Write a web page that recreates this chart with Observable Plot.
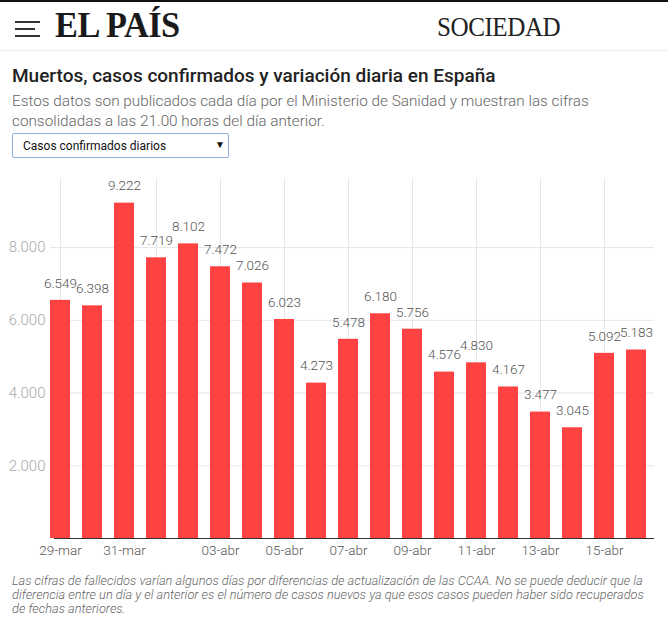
<!DOCTYPE html>
<html>
<head>
<meta charset="utf-8">
<script src="https://cdn.jsdelivr.net/npm/d3@7"></script>
<script src="https://cdn.jsdelivr.net/npm/@observablehq/plot@0.6"></script>
<style>
  html, body { margin: 0; padding: 0; background: #fff; width: 668px; overflow: hidden; }
  body { font-family: Roboto, "Noto Sans", sans-serif; }
  .topbar { height: 2px; background: #111; }
  .header { position: relative; height: 48px; border-bottom: 1px solid #eee; box-shadow: 0 1px 2px rgba(0,0,0,0.04); }
  .burger { position: absolute; left: 15px; top: 19px; width: 25px; }
  .burger div { height: 2px; background: #333; margin-bottom: 5px; }
  .burger div:nth-child(2) { width: 20px; }
  .logo { position: absolute; left: 55px; top: 4px; font-family: "Liberation Serif", "DejaVu Serif", serif; font-weight: bold; font-size: 35px; color: #1a1a1a; letter-spacing: -0.5px; transform: scaleX(0.98); transform-origin: left; }
  .section { position: absolute; left: 437px; top: 10px; font-family: "Liberation Serif", "DejaVu Serif", serif; font-size: 27px; color: #222; transform: scaleX(0.93); transform-origin: left; letter-spacing: -0.5px; }
  .title { position: absolute; left: 12px; top: 64px; font-size: 19px; font-weight: 500; color: #222; }
  .subtitle { position: absolute; left: 12px; top: 91px; width: 650px; font-size: 15.3px; font-weight: 300; color: #666; line-height: 20px; }
  .select { position: absolute; left: 12px; top: 133px; width: 215px; height: 23px; border: 1px solid #8db0dc; border-radius: 2px; font-size: 12px; color: #111; box-sizing: content-box; }
  .select span { position: absolute; left: 10px; top: 5px; }
  .select i { position: absolute; left: 202px; top: 5px; font-style: normal; font-size: 10px; }
  #chart { position: absolute; left: 0; top: 165px; }
  .caption { position: absolute; left: 12px; top: 574px; width: 660px; font-size: 12.8px; font-style: italic; font-weight: 300; color: #666; line-height: 13.8px; letter-spacing: 0; white-space: nowrap; }
</style>
</head>
<body>
<div class="topbar"></div>
<div class="header">
  <div class="burger"><div></div><div></div><div></div></div>
  <div class="logo">EL PAÍS</div>
  <div class="section">SOCIEDAD</div>
</div>
<div class="title">Muertos, casos confirmados y variación diaria en España</div>
<div class="subtitle">Estos datos son publicados cada día por el Ministerio de Sanidad y muestran las cifras<br>consolidadas a las 21.00 horas del día anterior.</div>
<div class="select"><span>Casos confirmados diarios</span><i>▼</i></div>
<div id="chart"></div>
<div class="caption">Las cifras de fallecidos varían algunos días por diferencias de actualización de las CCAA. No se puede deducir que la<br>diferencia entre un día y el anterior es el número de casos nuevos ya que esos casos pueden haber sido recuperados<br>de fechas anteriores.</div>
<script>
const dates = ["29-mar","30-mar","31-mar","01-abr","02-abr","03-abr","04-abr","05-abr","06-abr","07-abr","08-abr","09-abr","10-abr","11-abr","12-abr","13-abr","14-abr","15-abr","16-abr"];
const casos = [6549, 6398, 9222, 7719, 8102, 7472, 7026, 6023, 4273, 5478, 6180, 5756, 4576, 4830, 4167, 3477, 3045, 5092, 5183];
const xTickLabels = ["29-mar","31-mar","03-abr","05-abr","07-abr","09-abr","11-abr","13-abr","15-abr"];
const xGridTicks = ["29-mar","01-abr","03-abr","05-abr","07-abr","09-abr","11-abr","13-abr","15-abr"];
const yTicks = [2000, 4000, 6000, 8000];

const data = dates.map((d, i) => ({fecha: d, casos: casos[i]}));
const es = d3.formatLocale({decimal: ",", thousands: ".", grouping: [3], currency: ["", "€"]});
const fmt = v => es.format(",")(v).replace(/^(\d)(\d{3})$/, "$1.$2");

const chart = Plot.plot({
  width: 668,
  height: 403,
  marginLeft: 42,
  marginRight: 14,
  marginTop: 13,
  marginBottom: 30,
  style: {fontFamily: "Roboto, sans-serif", fontWeight: 300, background: "transparent"},
  x: {type: "band", domain: dates, paddingInner: 0.38, paddingOuter: 0.2, axis: null},
  y: {domain: [0, 9900], axis: null},
  marks: [
    Plot.gridY(yTicks, {stroke: "#e6e6e6", strokeOpacity: 1, insetLeft: 8}),
    Plot.gridX(xGridTicks, {stroke: "#e6e6e6", strokeOpacity: 1}),
    Plot.barY(data, {x: "fecha", y: "casos", fill: "#fe4141"}),
    Plot.ruleY([0], {stroke: "#333", strokeWidth: 1, insetLeft: 12}),
    Plot.text(data, {x: "fecha", y: "casos", text: d => fmt(d.casos), dy: -17, fill: "#555", fontSize: 13.5, fontWeight: 300}),
    Plot.axisY(yTicks, {tickSize: 0, tickPadding: 0, dx: 3, label: null, tickFormat: d => fmt(d), fontSize: 15, fill: "#aaa", fontWeight: 300}),
    Plot.axisX(xTickLabels, {tickSize: 0, tickPadding: 7, label: null, fontSize: 13.5, fill: "#555", fontWeight: 300})
  ]
});
document.getElementById("chart").appendChild(chart);
</script>
</body>
</html>
